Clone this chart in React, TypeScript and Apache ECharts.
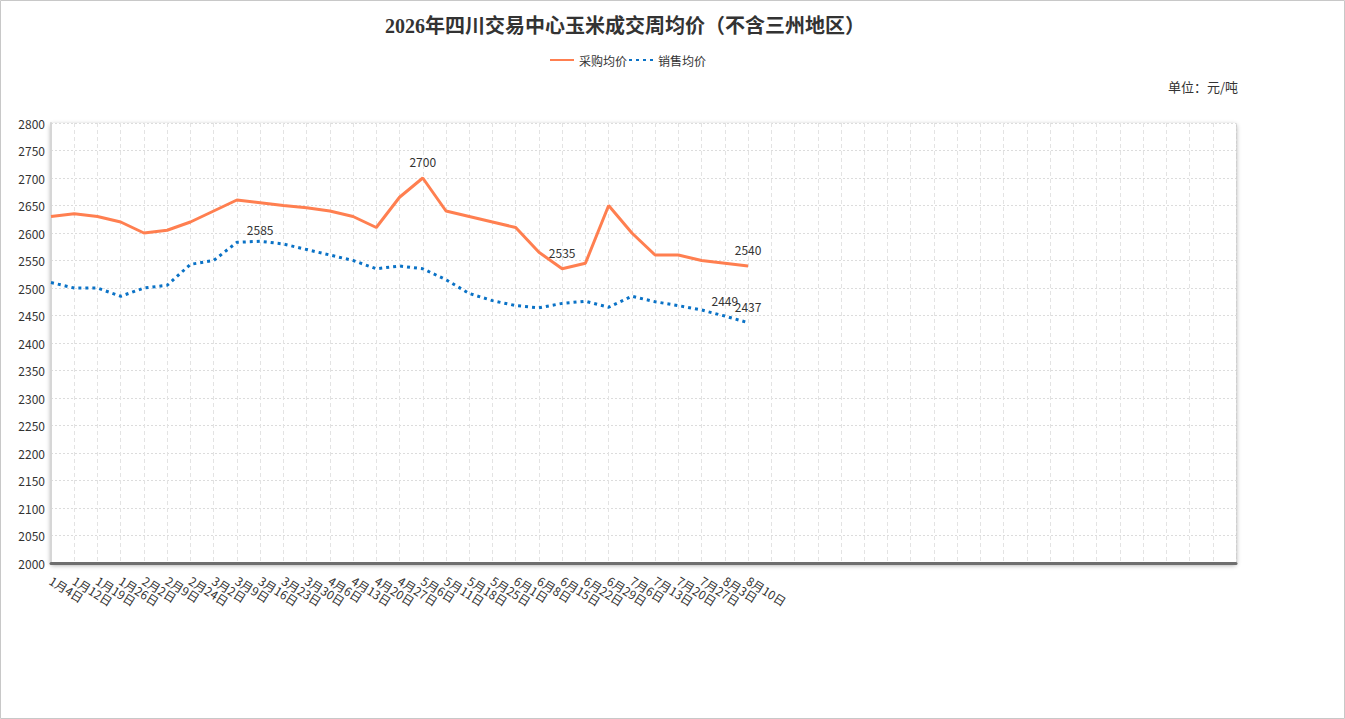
import React, { useEffect, useRef } from "react";
import * as echarts from "echarts";

const titleText = "2026年四川交易中心玉米成交周均价（不含三州地区）";
const seriesNames = ["采购均价", "销售均价"];
const unitText = "单位：元/吨";

const dates = [
  "1月4日", "1月12日", "1月19日", "1月26日", "2月2日", "2月9日", "2月24日",
  "3月2日", "3月9日", "3月16日", "3月23日", "3月30日", "4月6日", "4月13日",
  "4月20日", "4月27日", "5月6日", "5月11日", "5月18日", "5月25日", "6月1日",
  "6月8日", "6月15日", "6月22日", "6月29日", "7月6日", "7月13日", "7月20日",
  "7月27日", "8月3日", "8月10日",
];
const emptySlots = 21;

const purchase = [
  2630, 2635, 2630, 2620, 2600, 2605, 2620, 2640, 2660, 2655, 2650, 2646, 2640,
  2630, 2610, 2665, 2700, 2640, 2630, 2620, 2610, 2565, 2535, 2545, 2650, 2600,
  2560, 2560, 2550, 2545, 2540,
];
const sales = [
  2510, 2500, 2500, 2485, 2500, 2505, 2543, 2550, 2583, 2585, 2580, 2570, 2560,
  2550, 2535, 2540, 2535, 2515, 2490, 2477, 2468, 2464, 2472, 2476, 2465, 2485,
  2475, 2468, 2460, 2449, 2437,
];
const purchaseLabelIdx = [16, 22, 30];
const salesLabelIdx = [9, 29, 30];

const yMin = 2000;
const yMax = 2800;
const yStep = 50;

const FONT = "'Noto Sans CJK SC', 'Noto Sans', sans-serif";

export default function App() {
  const ref = useRef<HTMLDivElement>(null);
  useEffect(() => {
    document.body.style.margin = "0";
    if (!ref.current) return;
    const chart = echarts.init(ref.current, undefined, { renderer: "svg" });
    const categories = dates.concat(Array(emptySlots).fill(""));
    const mk = (vals: number[], idx: number[], dist: number[]) =>
      vals.map((v, i) => {
        const k = idx.indexOf(i);
        return k >= 0
          ? { value: v, label: { show: true, distance: dist[k] } }
          : v;
      });
    const option: any = {
      animation: false,
      backgroundColor: "#fff",
      textStyle: { fontFamily: FONT },
      title: {
        text: titleText,
        left: 380,
        top: 11,
        textStyle: {
          fontFamily: "'Liberation Serif', 'Noto Sans CJK SC', serif",
          fontSize: 20,
          fontWeight: "bold",
          color: "#333",
        },
      },
      legend: {
        data: seriesNames,
        left: 549,
        top: 54,
        padding: 0,
        itemWidth: 24,
        itemHeight: 12,
        itemGap: 1,
        itemStyle: { opacity: 0 },
        textStyle: { fontSize: 12, color: "#333", fontFamily: FONT },
      },
      grid: {
        left: 51,
        right: 109,
        top: 123,
        bottom: 156,
        show: true,
        backgroundColor: "#fff",
        borderWidth: 0,
        shadowColor: "rgba(0,0,0,0.4)",
        shadowBlur: 5,
        shadowOffsetY: 2,
      },
      xAxis: {
        type: "category",
        boundaryGap: false,
        data: categories,
        axisLine: {
          lineStyle: { color: "#6e6e6e", width: 3 },
        },
        axisTick: { show: false },
        axisLabel: {
          interval: 0,
          rotate: -32,
          margin: 16,
          fontSize: 12,
          color: "#333",
          fontFamily: FONT,
        },
        splitLine: {
          show: true,
          interval: 0,
          lineStyle: { color: "#e3e3e3", type: [4, 3], width: 1 },
        },
      },
      yAxis: [
        {
          type: "value",
          min: yMin,
          max: yMax,
          interval: yStep,
          axisLine: {
            show: true,
            lineStyle: { color: "#d6d6d6", width: 2 },
          },
          axisTick: { show: false },
          axisLabel: {
            fontSize: 12,
            color: "#333",
            margin: 6,
            fontFamily: FONT,
            formatter: (v: number) => String(v),
          },
          splitLine: {
            show: true,
            lineStyle: { color: "#dcdcdc", type: [2, 2], width: 1 },
          },
        },
        {
          type: "value",
          position: "right",
          min: yMin,
          max: yMax,
          interval: yStep,
          axisLine: {
            show: true,
            lineStyle: { color: "#cfcfcf", width: 1, type: [2, 2] },
          },
          axisTick: { show: false },
          axisLabel: { show: false },
          splitLine: { show: false },
        },
      ],
      series: [
        {
          name: seriesNames[0],
          type: "line",
          data: mk(purchase, purchaseLabelIdx, [10, 10, 10]),
          symbol: "circle",
          symbolSize: 0.01,
          lineStyle: { color: "#FF7F50", width: 3 },
          itemStyle: { color: "#FF7F50" },
          label: {
            show: false,
            position: "top",
            color: "#333",
            fontSize: 12,
            fontFamily: FONT,
          },
          z: 3,
        },
        {
          name: seriesNames[1],
          type: "line",
          data: mk(sales, salesLabelIdx, [6, 10, 10]),
          symbol: "circle",
          symbolSize: 0.01,
          lineStyle: { color: "#0a72c6", width: 3, type: [3, 4] },
          itemStyle: { color: "#0a72c6" },
          label: {
            show: false,
            position: "top",
            color: "#333",
            fontSize: 12,
            fontFamily: FONT,
          },
          z: 3,
        },
      ],
      graphic: [
        {
          type: "rect",
          silent: true,
          z: -10,
          shape: { x: 0.5, y: 0.5, width: 1344, height: 718 },
          style: { fill: "none", stroke: "#c8c8c8", lineWidth: 1 },
        },
        {
          type: "text",
          silent: true,
          x: 1238,
          y: 86,
          style: {
            text: unitText,
            align: "right",
            textAlign: "right",
            verticalAlign: "middle",
            textVerticalAlign: "middle",
            fill: "#333",
            font: "13px " + FONT,
          },
        },
      ],
    };
    chart.setOption(option);
    return () => chart.dispose();
  }, []);
  return (
    <div
      ref={ref}
      style={{ position: "fixed", left: 0, top: 0, width: 1345, height: 719 }}
    />
  );
}
